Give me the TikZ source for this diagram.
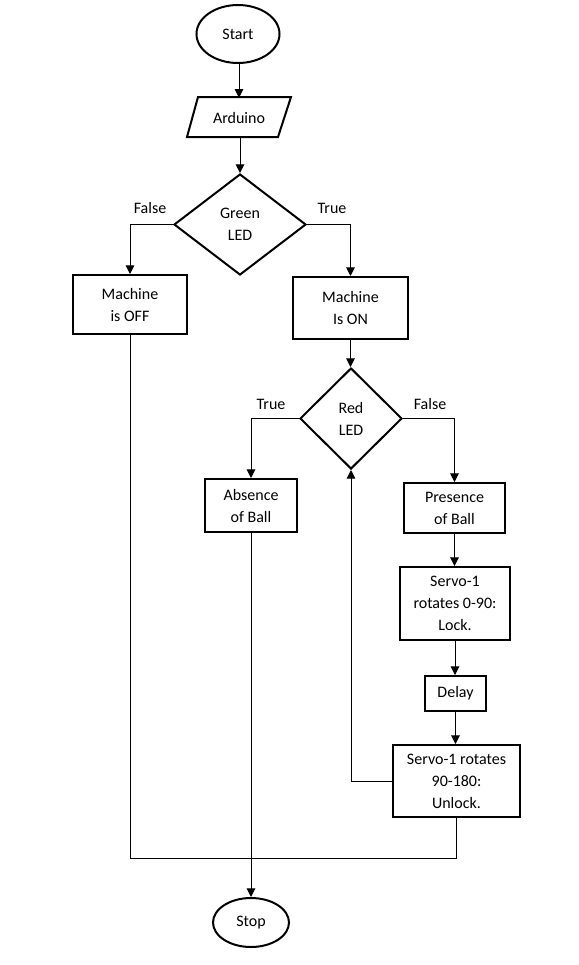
\documentclass[tikz,border=0pt]{standalone}
\usepackage{fontspec}
\setmainfont{Carlito}
\usetikzlibrary{shapes.geometric,arrows.meta}
\tikzset{
  txt/.style={font=\fontsize{12}{16.5}\selectfont},
  boxnode/.style={draw,line width=1.5pt,align=center,inner sep=0pt,txt},
  termnode/.style={draw,ellipse,line width=1.5pt,inner sep=0pt,txt},
  decnode/.style={draw,diamond,line width=1.5pt,inner sep=0pt,align=center,txt},
  lbl/.style={txt,inner sep=0pt},
  conn/.style={line width=0.75pt},
  arr/.style={conn,-{Triangle[width=6.5pt,length=6.5pt]}}
}
\begin{document}
\begin{tikzpicture}[x=0.75pt,y=-0.75pt]
\useasboundingbox (0,0) rectangle (579,965);
% terminals
\node[termnode,minimum width=62.25pt,minimum height=43.5pt] (start) at (238,34) {Start};
\node[termnode,minimum width=57pt,minimum height=36.75pt] (stop) at (251,922.5) {Stop};
% parallelogram
\draw[line width=1.5pt] (198,97) -- (291,97) -- (278,137) -- (187,137) -- cycle;
\node[inner sep=0pt,minimum height=30pt,txt] (ard) at (239,118) {Arduino};
% decisions
\node[decnode,minimum width=99pt,minimum height=75.75pt] (green) at (240,224.5) {Green\\LED};
\node[decnode,minimum width=76.5pt,minimum height=75.75pt] (red) at (351,418.5) {Red\\LED};
% boxes
\node[boxnode,minimum width=85.5pt,minimum height=44.25pt] (off) at (130,304.5) {Machine\\is OFF};
\node[boxnode,minimum width=86.25pt,minimum height=46.5pt] (on) at (350.5,308) {Machine\\Is ON};
\node[boxnode,minimum width=69pt,minimum height=39.75pt] (abs) at (251,505.5) {Absence\\of Ball};
\node[boxnode,minimum width=75.75pt,minimum height=37.5pt] (pres) at (454.5,508) {Presence\\of Ball};
\node[boxnode,minimum width=82.5pt,minimum height=54.75pt] (servoa) at (455,603.5) {Servo-1\\rotates 0-90:\\Lock.};
\node[boxnode,minimum width=45.75pt,minimum height=26.25pt] (delay) at (455.5,693.5) {Delay};
\node[boxnode,minimum width=95.25pt,minimum height=54pt] (servob) at (456.5,781) {Servo-1 rotates\\90-180:\\Unlock.};
\coordinate (merge) at (300,858);
% connectors
\draw[arr] (start.south -| ard) -- (ard.north);
\draw[arr] (ard.south -| green) -- (green.north);
\draw[arr] (green.west) -| (off.north);
\draw[arr] (green.east) -| (on.north);
\draw[arr] (on.south) -- (on.south |- red.north);
\draw[arr] (red.west) -| (abs.north);
\draw[arr] (red.east) -| (pres.north);
\draw[arr] (pres.south) -- (pres.south |- servoa.north);
\draw[arr] (servoa.south) -- (servoa.south |- delay.north);
\draw[arr] (delay.south) -- (delay.south |- servob.north);
\draw[arr] (servob.west) -| (red.south);
\draw[arr] (abs.south) -- (stop.north);
\draw[conn] (off.south) |- (merge) -| (servob.south);
% labels
\node[lbl] (lf1) at (150,208) {False};
\node[lbl] (lt1) at (332,208) {True};
\node[lbl] (lt2) at (271,404) {True};
\node[lbl] (lf2) at (430,404) {False};
\end{tikzpicture}
\end{document}
